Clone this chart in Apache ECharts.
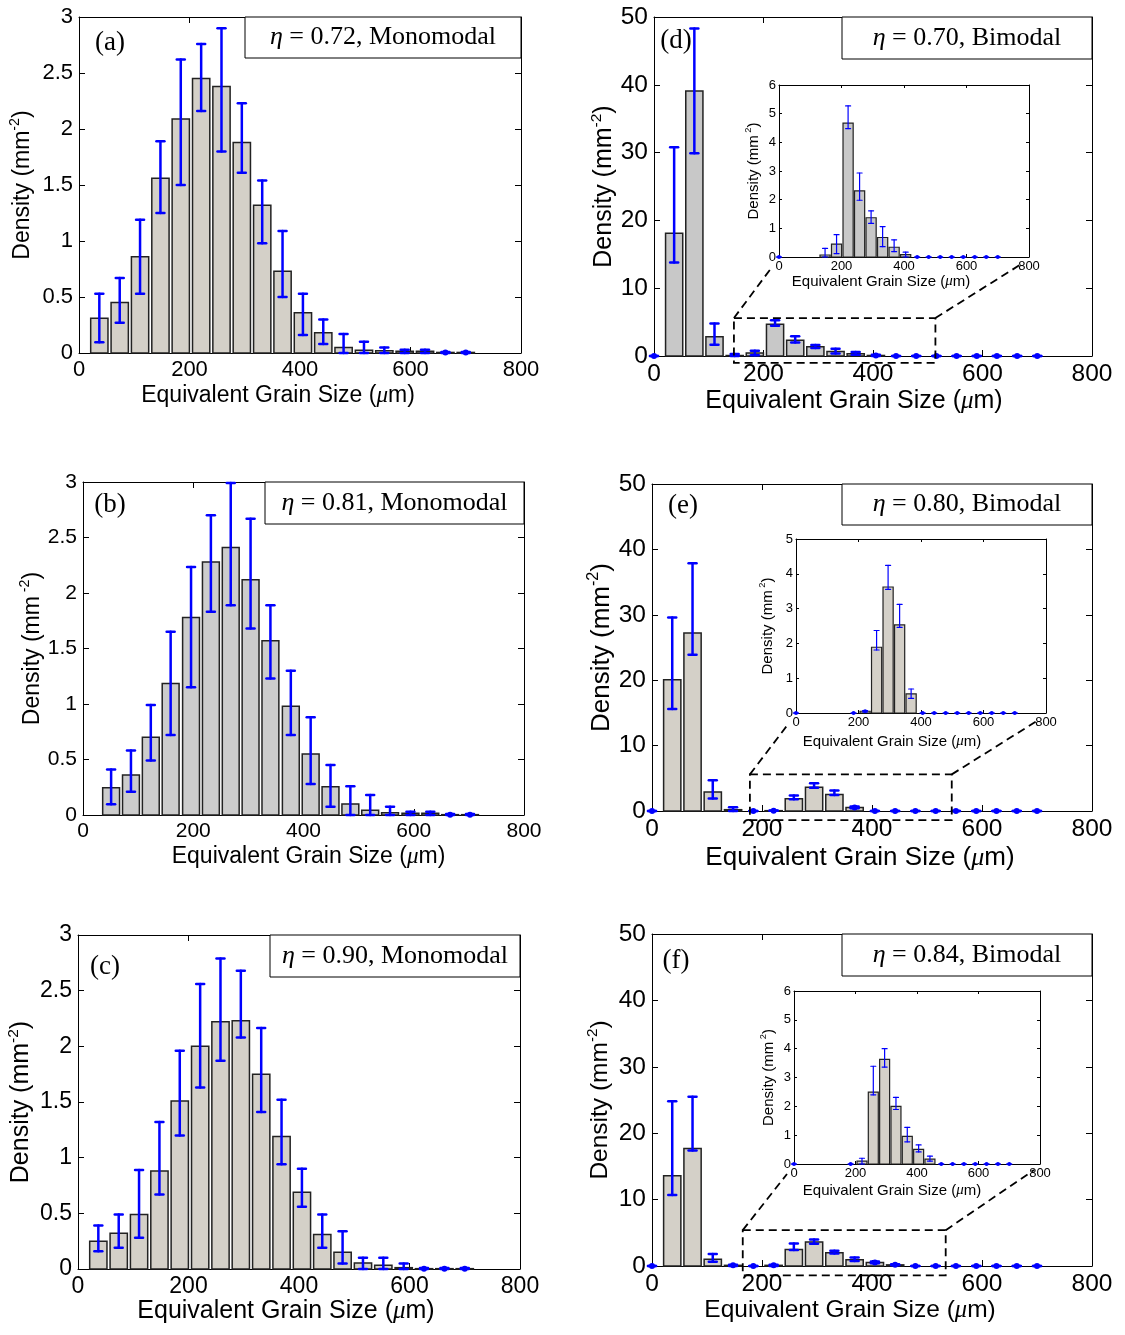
<!DOCTYPE html>
<html>
<head>
<meta charset="utf-8">
<script src="https://cdn.jsdelivr.net/npm/echarts@6/dist/echarts.min.js"></script>
<style>
  html, body { margin: 0; padding: 0; background: #fff; }
  #chart { width: 1125px; height: 1335px; }
</style>
</head>
<body>
<div id="chart"></div>
<script>
// bin centres, um
const binsMono = [36.8, 73.7, 110.5, 147.4, 184.2, 221.1, 257.9, 294.7, 331.6, 368.4, 405.3, 442.1, 478.9, 515.8, 552.6, 589.5, 626.3, 663.2, 700]
const binsB = [51, 87, 123, 159, 196, 232, 268, 304, 340, 377, 413, 449, 485, 521, 557, 594, 630, 666, 702]
const binsBi = [0, 36.8, 73.7, 110.5, 147.4, 184.2, 221.1, 257.9, 294.7, 331.6, 368.4, 405.3, 442.1, 478.9, 515.8, 552.6, 589.5, 626.3, 663.2, 700]

// (a) eta = 0.72
const densA = [0.31, 0.45, 0.86, 1.56, 2.09, 2.45, 2.38, 1.88, 1.32, 0.73, 0.36, 0.18, 0.05, 0.024, 0.02, 0.015, 0.015, 0.005, 0.005]
const loA = [0.095, 0.27, 0.53, 1.25, 1.50, 2.16, 1.80, 1.61, 0.98, 0.50, 0.16, 0.08, 0, 0, 0, 0, 0, 0, 0]
const hiA = [0.53, 0.67, 1.19, 1.89, 2.62, 2.76, 2.90, 2.23, 1.54, 1.09, 0.53, 0.30, 0.17, 0.10, 0.05, 0.03, 0.03, 0.01, 0.01]

// (b) eta = 0.81
const densB = [0.246, 0.36, 0.70, 1.185, 1.78, 2.28, 2.41, 2.12, 1.57, 0.98, 0.55, 0.255, 0.10, 0.042, 0.02, 0.015, 0.015, 0.003, 0.003]
const loB = [0.096, 0.21, 0.49, 0.72, 1.15, 1.83, 1.89, 1.68, 1.23, 0.72, 0.28, 0.075, 0, 0, 0, 0, 0, 0, 0]
const hiB = [0.41, 0.58, 0.99, 1.65, 2.235, 2.70, 2.99, 2.67, 1.89, 1.30, 0.88, 0.45, 0.26, 0.18, 0.075, 0.03, 0.03, 0.008, 0.008]

// (c) eta = 0.90
const densC = [0.25, 0.32, 0.49, 0.88, 1.51, 2.00, 2.22, 2.23, 1.75, 1.19, 0.69, 0.31, 0.15, 0.054, 0.033, 0.012, 0.003, 0.003, 0.003]
const loC = [0.16, 0.19, 0.28, 0.67, 1.20, 1.63, 1.87, 2.08, 1.41, 0.94, 0.56, 0.19, 0.05, 0, 0, 0, 0, 0, 0]
const hiC = [0.39, 0.49, 0.89, 1.32, 1.96, 2.56, 2.79, 2.68, 2.165, 1.52, 0.90, 0.49, 0.34, 0.10, 0.10, 0.05, 0.01, 0.01, 0.01]

// (d) eta = 0.70
const densD = [0, 18.1, 39.1, 2.84, 0.07, 0.45, 4.67, 2.31, 1.37, 0.68, 0.34, 0.08, 0, 0, 0, 0, 0, 0, 0, 0]
const loD = [0, 13.8, 29.9, 1.67, 0, 0.12, 4.48, 1.98, 1.17, 0.36, 0.19, 0, 0, 0, 0, 0, 0, 0, 0, 0]
const hiD = [0, 30.8, 48.3, 4.8, 0.3, 0.78, 5.27, 2.93, 1.61, 1.06, 0.60, 0.17, 0, 0, 0, 0, 0, 0, 0, 0]

// (e) eta = 0.80
const densE = [0, 20.06, 27.2, 2.9, 0.2, 0, 0.05, 1.89, 3.62, 2.53, 0.55, 0, 0, 0, 0, 0, 0, 0, 0, 0]
const loE = [0, 15.6, 23.9, 1.9, 0, 0, 0.03, 1.81, 3.55, 2.46, 0.42, 0, 0, 0, 0, 0, 0, 0, 0, 0]
const hiE = [0, 29.6, 37.9, 4.7, 0.56, 0, 0.07, 2.37, 4.24, 3.12, 0.69, 0, 0, 0, 0, 0, 0, 0, 0, 0]

// (f) eta = 0.84
const densF = [0, 13.6, 17.7, 1.0, 0.1, 0, 0.1, 2.49, 3.63, 2.0, 0.96, 0.51, 0.17, 0, 0, 0, 0, 0, 0, 0]
const loF = [0, 10.7, 17.4, 0.65, 0, 0, 0, 2.4, 3.36, 1.89, 0.77, 0.42, 0.10, 0, 0, 0, 0, 0, 0, 0]
const hiF = [0, 24.8, 25.5, 1.8, 0.2, 0, 0.2, 3.39, 4.0, 2.31, 1.27, 0.66, 0.27, 0, 0, 0, 0, 0, 0, 0]

const SANS = '"Liberation Sans", Arial, Helvetica, sans-serif'
const SERIF = '"Liberation Serif", "Times New Roman", serif'
const BLUE = '#0000ff'

const panels = [
  { tag: '(a)', eta: '0.72', kind: 'Monomodal', bins: binsMono, dens: densA, lo: loA, hi: hiA,
    ymax: 3, yint: 0.5, fill: '#d4d0c8', grid: { left: 79, top: 17, width: 442, height: 336 },
    tick: 22, nameSize: 23, xGap: 31, yGap: 42, xShift: -22, sup: '-2',
    tagAt: [110, 43], box: [245, 17, 276, 41] },
  { tag: '(b)', eta: '0.81', kind: 'Monomodal', bins: binsB, dens: densB, lo: loB, hi: hiB,
    ymax: 3, yint: 0.5, fill: '#cccccc', grid: { left: 83, top: 482, width: 441, height: 333 },
    tick: 21, nameSize: 23, xGap: 30, yGap: 33, xShift: 5, sup: ' -2',
    tagAt: [110, 505], box: [265, 482, 259, 42] },
  { tag: '(c)', eta: '0.90', kind: 'Monomodal', bins: binsMono, dens: densC, lo: loC, hi: hiC,
    ymax: 3, yint: 0.5, fill: '#d4d0c8', grid: { left: 78, top: 935, width: 442, height: 334 },
    tick: 23, nameSize: 25, xGap: 30, yGap: 41, xShift: -13, sup: '-2',
    tagAt: [105, 967], box: [270, 935, 250, 42] },
  { tag: '(d)', eta: '0.70', kind: 'Bimodal', bins: binsBi, dens: densD, lo: loD, hi: hiD,
    ymax: 50, yint: 10, fill: '#c8c8c8', grid: { left: 654, top: 17, width: 438, height: 339 },
    tick: 24.5, nameSize: 25, xGap: 33, yGap: 34, xShift: -19, sup: '-2',
    tagAt: [676, 41], box: [842, 17, 250, 42],
    inset: { grid: { left: 779, top: 85, width: 250, height: 172 }, ymax: 6, start: 4,
      xGap: 15, yGap: 16, xShift: -23, zoom: [146, -1, 514, 5.6] } },
  { tag: '(e)', eta: '0.80', kind: 'Bimodal', bins: binsBi, dens: densE, lo: loE, hi: hiE,
    ymax: 50, yint: 10, fill: '#d4d0c8', grid: { left: 652, top: 484, width: 440, height: 327 },
    tick: 24.5, nameSize: 26, xGap: 34, yGap: 34, xShift: -12, sup: '-2',
    tagAt: [683, 506], box: [842, 484, 250, 41],
    inset: { grid: { left: 796, top: 539, width: 250, height: 174 }, ymax: 5, start: 5,
      xGap: 21, yGap: 19, xShift: -29, zoom: [178, -1.4, 545, 5.6] } },
  { tag: '(f)', eta: '0.84', kind: 'Bimodal', bins: binsBi, dens: densF, lo: loF, hi: hiF,
    ymax: 50, yint: 10, fill: '#d4d0c8', grid: { left: 652, top: 934, width: 440, height: 332 },
    tick: 24.5, nameSize: 24.5, xGap: 31, yGap: 36, xShift: -22, sup: '-2',
    tagAt: [676, 961], box: [842, 934, 250, 42],
    inset: { grid: { left: 794, top: 991, width: 246, height: 173 }, ymax: 6, start: 5,
      xGap: 19, yGap: 16, xShift: -25, zoom: [165, -1.4, 534, 5.4] } },
]

const grids = []
const xAxes = []
const yAxes = []
const series = []
const graphics = []

function addAxes(g, o) {
  const gi = grids.length
  grids.push(Object.assign({ show: !!o.bg, backgroundColor: '#fff', borderWidth: 0 }, g))
  const axisLine = { show: true, onZero: false, lineStyle: { color: '#000', width: 1 } }
  const axisTick = { show: true, inside: true, length: o.tickLen, lineStyle: { color: '#000', width: 1 } }
  const pad = o.xShift < 0 ? [0, -2 * o.xShift, 0, 0] : [0, 0, 0, 2 * o.xShift]
  const xi = xAxes.length
  xAxes.push({
    type: 'value', gridIndex: gi, min: 0, max: 800, interval: 200, position: 'bottom',
    axisLine, axisTick, splitLine: { show: false },
    axisLabel: { fontFamily: SANS, fontSize: o.tick, color: '#000', margin: o.xMargin },
    name: '{t|Equivalent Grain Size (}{m|μ}{t|m)}', nameLocation: 'middle', nameGap: o.xGap,
    nameTextStyle: {
      padding: pad,
      rich: {
        t: { fontFamily: SANS, fontSize: o.nameSize, color: '#000' },
        m: { fontFamily: SERIF, fontStyle: 'italic', fontSize: o.nameSize, color: '#000' },
      },
    },
  })
  xAxes.push({
    type: 'value', gridIndex: gi, min: 0, max: 800, interval: 200, position: 'top',
    axisLine, axisTick, axisLabel: { show: false }, splitLine: { show: false },
  })
  const yi = yAxes.length
  yAxes.push({
    type: 'value', gridIndex: gi, min: 0, max: o.ymax, interval: o.yint, position: 'left',
    axisLine, axisTick, splitLine: { show: false },
    axisLabel: { fontFamily: SANS, fontSize: o.tick, color: '#000', margin: o.yMargin },
    name: '{t|Density (mm}{s|' + o.sup + '}{t|)}', nameLocation: 'middle', nameGap: o.yGap, nameRotate: 90,
    nameTextStyle: {
      rich: {
        t: { fontFamily: SANS, fontSize: o.nameSize, color: '#000', lineHeight: o.nameSize * 1.25 },
        s: { fontFamily: SANS, fontSize: o.nameSize * 0.62, color: '#000', verticalAlign: 'top', lineHeight: o.nameSize * 1.25 },
      },
    },
  })
  yAxes.push({
    type: 'value', gridIndex: gi, min: 0, max: o.ymax, interval: o.yint, position: 'right',
    axisLine, axisTick, axisLabel: { show: false }, splitLine: { show: false },
  })
  return { xi, yi }
}

function barRenderer(w, fill, lw) {
  return function (params, api) {
    const x = api.value(0)
    const v = api.value(1)
    if (!v) return null
    const p0 = api.coord([x - w / 2, v])
    const p1 = api.coord([x + w / 2, 0])
    return {
      type: 'rect',
      shape: { x: p0[0], y: p0[1], width: p1[0] - p0[0], height: p1[1] - p0[1] },
      style: { fill: fill, stroke: '#222', lineWidth: lw },
    }
  }
}

// error bar with caps; a small dot marks points whose bar collapses
function errRenderer(cap, lw, dot) {
  return function (params, api) {
    const x = api.value(0)
    const pV = api.coord([x, api.value(1)])
    const pLo = api.coord([x, api.value(2)])
    const pHi = api.coord([x, api.value(3)])
    const st = { stroke: BLUE, lineWidth: lw, lineCap: 'round' }
    const children = [
      { type: 'line', shape: { x1: pLo[0], y1: pLo[1], x2: pHi[0], y2: pHi[1] }, style: st },
      { type: 'line', shape: { x1: pLo[0] - cap, y1: pLo[1], x2: pLo[0] + cap, y2: pLo[1] }, style: st },
      { type: 'line', shape: { x1: pHi[0] - cap, y1: pHi[1], x2: pHi[0] + cap, y2: pHi[1] }, style: st },
    ]
    if (pLo[1] - pHi[1] < 2) {
      children.push({ type: 'circle', shape: { cx: pV[0], cy: pV[1], r: dot }, style: { fill: BLUE } })
    }
    return { type: 'group', children }
  }
}

panels.forEach((p) => {
  const ax = addAxes(p.grid, {
    ymax: p.ymax, yint: p.yint, tick: p.tick, tickLen: 6, nameSize: p.nameSize,
    xGap: p.xGap, yGap: p.yGap, xShift: p.xShift, sup: p.sup, xMargin: 6, yMargin: 6,
  })
  const w = (p.bins[2] - p.bins[1]) * 0.85
  series.push({
    type: 'custom', xAxisIndex: ax.xi, yAxisIndex: ax.yi, z: 3,
    renderItem: barRenderer(w, p.fill, 1.5),
    data: p.bins.map((x, k) => [x, p.dens[k]]),
  })
  series.push({
    type: 'custom', xAxisIndex: ax.xi, yAxisIndex: ax.yi, z: 4,
    renderItem: errRenderer(4, 2.5, 3),
    data: p.bins.map((x, k) => [x, p.dens[k], p.lo[k], p.hi[k]]),
  })

  // eta label box + panel tag
  graphics.push({
    type: 'rect', z: 20,
    shape: { x: p.box[0], y: p.box[1], width: p.box[2], height: p.box[3] },
    style: { fill: '#fff', stroke: '#000', lineWidth: 1 },
  })
  graphics.push({
    type: 'text', z: 21,
    x: p.box[0] + p.box[2] / 2, y: p.box[1] + p.box[3] / 2,
    style: {
      text: '{e|η} = ' + p.eta + ', ' + p.kind,
      fontFamily: SERIF, fontSize: 26, fill: '#000',
      align: 'center', verticalAlign: 'middle', textAlign: 'center', textVerticalAlign: 'middle',
      rich: { e: { fontFamily: SERIF, fontStyle: 'italic', fontSize: 26, fill: '#000', color: '#000' } },
    },
  })
  graphics.push({
    type: 'text', z: 21, x: p.tagAt[0], y: p.tagAt[1],
    style: {
      text: p.tag, fontFamily: SERIF, fontSize: 27, fill: '#000',
      align: 'center', verticalAlign: 'middle', textAlign: 'center', textVerticalAlign: 'middle',
    },
  })

  if (p.inset) {
    const s = p.inset
    const g = s.grid
    // dashed zoom box and connectors, drawn in the main axes
    const L = g.left
    const R = g.left + g.width
    const B = g.top + g.height
    series.push({
      type: 'custom', xAxisIndex: ax.xi, yAxisIndex: ax.yi, z: 5, clip: false,
      data: [s.zoom],
      renderItem: function (params, api) {
        const tl = api.coord([api.value(0), api.value(3)])
        const br = api.coord([api.value(2), api.value(1)])
        const st = { stroke: '#000', fill: null, lineWidth: 1.8, lineDash: [8, 5] }
        return {
          type: 'group',
          children: [
            { type: 'rect', shape: { x: tl[0], y: tl[1], width: br[0] - tl[0], height: br[1] - tl[1] }, style: st },
            { type: 'line', shape: { x1: tl[0], y1: tl[1], x2: L - 7, y2: B + 10 }, style: st },
            { type: 'line', shape: { x1: br[0], y1: tl[1], x2: R - 6, y2: B + 6 }, style: st },
          ],
        }
      },
    })

    const ia = addAxes(g, {
      bg: true, ymax: s.ymax, yint: 1, tick: 13, tickLen: 3, nameSize: 15,
      xGap: s.xGap, yGap: s.yGap, xShift: s.xShift, sup: ' 2', xMargin: 3, yMargin: 3,
    })
    const keep = (k) => k === 0 || k >= s.start
    const wi = (p.bins[2] - p.bins[1]) * 0.88
    series.push({
      type: 'custom', xAxisIndex: ia.xi, yAxisIndex: ia.yi, z: 6,
      renderItem: barRenderer(wi, p.fill, 1.2),
      data: p.bins.map((x, k) => [x, p.dens[k]]).filter((d, k) => keep(k)),
    })
    series.push({
      type: 'custom', xAxisIndex: ia.xi, yAxisIndex: ia.yi, z: 7,
      renderItem: errRenderer(2.5, 1.2, 2),
      data: p.bins.map((x, k) => [x, p.dens[k], p.lo[k], p.hi[k]]).filter((d, k) => keep(k)),
    })
  }
})

const chart = echarts.init(document.getElementById('chart'))
chart.setOption({
  animation: false,
  backgroundColor: '#fff',
  grid: grids,
  xAxis: xAxes,
  yAxis: yAxes,
  series: series,
  graphic: graphics,
})
</script>
</body>
</html>
